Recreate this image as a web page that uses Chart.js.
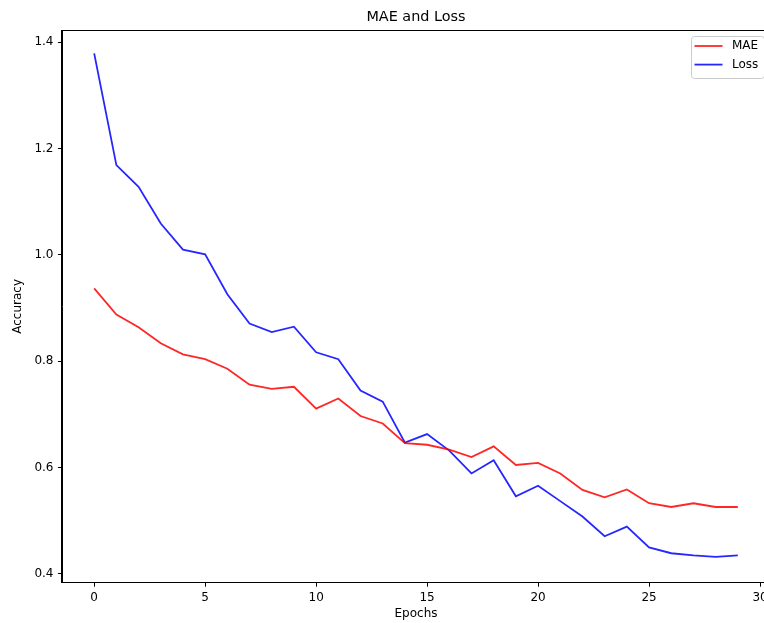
<!DOCTYPE html>
<html>
<head>
<meta charset="utf-8">
<script src="https://cdn.jsdelivr.net/npm/chart.js@4"></script>
<style>
  html, body { margin: 0; padding: 0; background: #fff; overflow: hidden; }
  #wrap { position: relative; width: 790px; height: 623px; }
</style>
</head>
<body>
<div id="wrap"><canvas id="c"></canvas></div>
<script>
const epochs = [0,1,2,3,4,5,6,7,8,9,10,11,12,13,14,15,16,17,18,19,20,21,22,23,24,25,26,27,28,29];
const maeValues = [0.937,0.888,0.864,0.834,0.813,0.804,0.786,0.756,0.748,0.752,0.711,0.730,0.697,0.683,0.646,0.643,0.634,0.620,0.640,0.605,0.609,0.589,0.558,0.544,0.559,0.533,0.526,0.533,0.526,0.526];
const lossValues = [1.379,1.169,1.128,1.059,1.010,1.001,0.926,0.871,0.855,0.865,0.817,0.804,0.745,0.724,0.647,0.663,0.632,0.589,0.614,0.546,0.566,0.537,0.508,0.471,0.489,0.450,0.439,0.435,0.432,0.435];
const xTicks = [0,5,10,15,20,25,30];
const yTicks = [0.4,0.6,0.8,1.0,1.2,1.4];
const seriesLabels = ['MAE','Loss'];
const seriesColors = ['rgba(255,0,0,0.85)','rgba(0,0,255,0.85)'];

const FONT = 'DejaVu Sans';

const frameAndLegend = {
  id: 'frameAndLegend',
  afterDraw(chart) {
    const ctx = chart.ctx;
    const a = chart.chartArea;
    ctx.save();
    ctx.strokeStyle = '#000';
    ctx.lineWidth = 1;
    ctx.strokeRect(Math.round(a.left) - 0.5, Math.round(a.top) + 0.5, Math.round(a.right - a.left), Math.round(a.bottom - a.top) - 1);
    // legend
    const bx = 691.5, by = 36.5, bw = 73, bh = 42, r = 3;
    ctx.fillStyle = 'rgba(255,255,255,0.8)';
    ctx.strokeStyle = '#cccccc';
    ctx.beginPath();
    ctx.moveTo(bx + r, by);
    ctx.lineTo(bx + bw - r, by);
    ctx.arcTo(bx + bw, by, bx + bw, by + r, r);
    ctx.lineTo(bx + bw, by + bh - r);
    ctx.arcTo(bx + bw, by + bh, bx + bw - r, by + bh, r);
    ctx.lineTo(bx + r, by + bh);
    ctx.arcTo(bx, by + bh, bx, by + bh - r, r);
    ctx.lineTo(bx, by + r);
    ctx.arcTo(bx, by, bx + r, by, r);
    ctx.closePath();
    ctx.fill();
    ctx.stroke();
    chart.data.datasets.forEach((ds, i) => {
      const y = 46 + i * 18.6;
      ctx.strokeStyle = ds.borderColor;
      ctx.lineWidth = 1.8;
      ctx.beginPath();
      ctx.moveTo(694.5, y);
      ctx.lineTo(722.5, y);
      ctx.stroke();
      ctx.fillStyle = '#000';
      ctx.font = '12px "' + FONT + '"';
      ctx.textBaseline = 'middle';
      ctx.textAlign = 'left';
      ctx.fillText(ds.label, 732, y);
    });
    ctx.restore();
  }
};

new Chart(document.getElementById('c'), {
  type: 'line',
  data: {
    datasets: [
      { label: seriesLabels[0], data: epochs.map((e, i) => ({x: e, y: maeValues[i]})), borderColor: seriesColors[0], borderWidth: 1.8, pointRadius: 0, fill: false, tension: 0 },
      { label: seriesLabels[1], data: epochs.map((e, i) => ({x: e, y: lossValues[i]})), borderColor: seriesColors[1], borderWidth: 1.8, pointRadius: 0, fill: false, tension: 0 }
    ]
  },
  options: {
    responsive: true,
    maintainAspectRatio: false,
    animation: false,
    devicePixelRatio: 1,
    layout: { padding: { left: 0, right: 20, top: 0, bottom: 0 } },
    plugins: {
      legend: { display: false },
      tooltip: { enabled: false },
      title: {
        display: true,
        fullSize: false,
        text: 'MAE and Loss',
        color: '#000',
        font: { family: FONT, size: 14.4, weight: 'normal', lineHeight: 1.2 },
        padding: { top: 9, bottom: 3.72 }
      }
    },
    scales: {
      x: {
        type: 'linear',
        min: -1.45,
        max: 30.45,
        afterBuildTicks: (s) => { s.ticks = xTicks.map(v => ({ value: v })); },
        afterFit: (s) => { s.height = 40.3; },
        grid: { drawOnChartArea: false, drawTicks: true, tickLength: 4, color: '#000' },
        border: { display: true, color: '#000' },
        ticks: { color: '#000', padding: 3.5, maxRotation: 0, autoSkip: false, font: { family: FONT, size: 12 }, callback: (v) => String(v) },
        title: { display: true, text: 'Epochs', color: '#000', font: { family: FONT, size: 12 }, padding: { top: 0, bottom: 1.6 } }
      },
      y: {
        type: 'linear',
        min: 0.3836,
        max: 1.423,
        afterBuildTicks: (s) => { s.ticks = yTicks.map(v => ({ value: v })); },
        afterFit: (s) => { s.width = 62; },
        grid: { drawOnChartArea: false, drawTicks: true, tickLength: 4, color: '#000' },
        border: { display: true, color: '#000' },
        ticks: { color: '#000', padding: 4.5, autoSkip: false, font: { family: FONT, size: 12 }, callback: (v) => Number(v).toFixed(1) },
        title: { display: true, text: 'Accuracy', color: '#000', font: { family: FONT, size: 12 }, padding: { top: 11, bottom: 0 } }
      }
    }
  },
  plugins: [frameAndLegend]
});
</script>
</body>
</html>
